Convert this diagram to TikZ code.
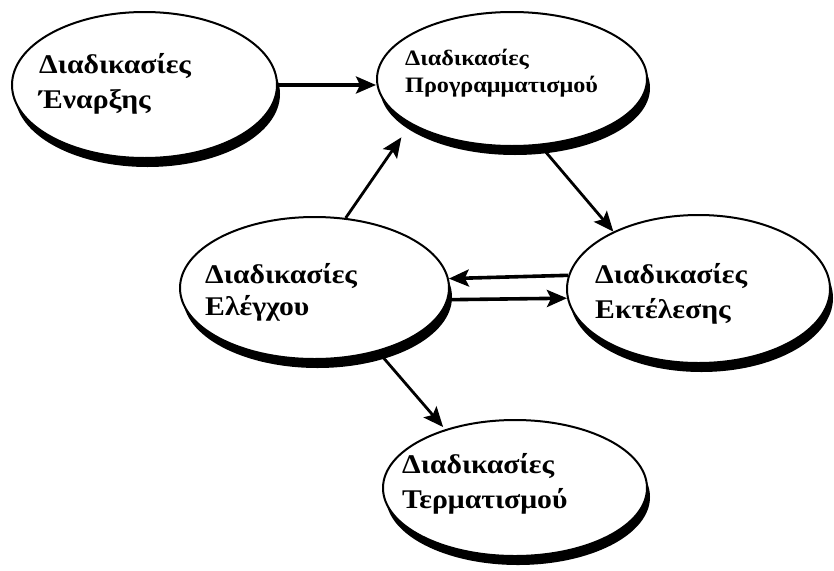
\documentclass[tikz,border=0pt]{standalone}
\usepackage{fontspec}
\setmainfont[FakeStretch=1.1]{Liberation Serif}
\usetikzlibrary{shapes.geometric,shadows,arrows.meta}

% two left-aligned lines; the node's base is the first line's baseline
\newcommand\twolines[4]{{\fontsize{#1}{#2}\selectfont\bfseries
  \begin{tabular}[t]{@{}l@{}}#3\\#4\end{tabular}}}

\begin{document}
\begin{tikzpicture}[x=1pt,y=-1pt,
  proc/.style={ellipse, draw=black, line width=2pt, fill=white, inner sep=0pt,
    drop shadow={shadow xshift=3pt, shadow yshift=-9pt, fill=black, opacity=1}},
  caption/.style={anchor=base west, inner sep=0pt},
  flow/.style={line width=2.8pt, -{Stealth[length=20pt,width=17pt,inset=4pt]}},
  flowthick/.style={flow, line width=3.6pt}]
\useasboundingbox (0,0) rectangle (834,570);

% process ellipses
\node[proc, minimum width=265pt, minimum height=146pt] (e1) at (144.5,85) {};
\node[proc, minimum width=270pt, minimum height=134pt] (e2) at (512,79) {};
\node[proc, minimum width=269pt, minimum height=142pt] (e3) at (314.5,288) {};
\node[proc, minimum width=263pt, minimum height=148pt] (e4) at (698.5,289) {};
\node[proc, minimum width=264pt, minimum height=136pt] (e5) at (515,488) {};

% labels
\node[caption] (t1) at (39,73)   {\twolines{27}{35}{Διαδικασίες}{Έναρξης}};
\node[caption] (t2) at (405,65)  {\twolines{22}{27}{Διαδικασίες}{Προγραμματισμού}};
\node[caption] (t3) at (205,283) {\twolines{27}{32}{Διαδικασίες}{Ελέγχου}};
\node[caption] (t4) at (595,283) {\twolines{27}{35}{Διαδικασίες}{Εκτέλεσης}};
\node[caption] (t5) at (402,473) {\twolines{27}{35}{Διαδικασίες}{Τερματισμού}};

% flows
\draw[flowthick] (e1.east) -- (e1.east -| e2.west);
\draw[flow, shorten >=16pt] (e3.66.5) -- (e2.204.7);
\draw[flow] (e2.293.8) -- (e4.146.8);
\draw[flowthick] (e4.174.7) -- (e3.4.7);
\draw[flowthick] (e3.355.3) -- (e4.184.4);
\draw[flow, shorten >=3pt] (e3.315.1) -- (e5.140.4);
\end{tikzpicture}
\end{document}
